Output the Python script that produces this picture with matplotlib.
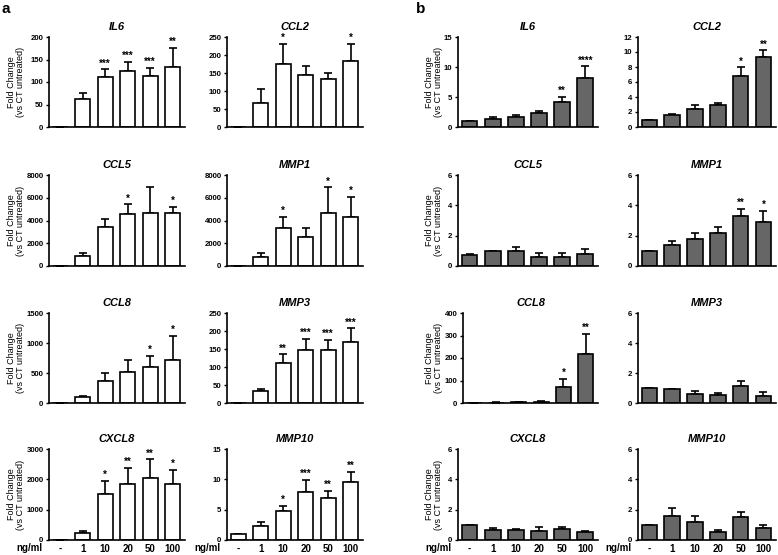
import matplotlib
matplotlib.use('Agg')
import matplotlib.pyplot as plt
import numpy as np

plt.rcParams['font.family'] = ['Liberation Sans', 'DejaVu Sans']

doses = ['-', '1', '10', '20', '50', '100']

# panel a (white bars)
a_il6_mean = [1, 62, 112, 124, 114, 133]
a_il6_sem = [0, 14, 16, 20, 18, 43]
a_il6_stars = ['', '', '***', '***', '***', '**']

a_ccl2_mean = [1, 67, 176, 144, 134, 182]
a_ccl2_sem = [0, 39, 54, 25, 15, 49]
a_ccl2_stars = ['', '', '*', '', '', '*']

a_ccl5_mean = [1, 880, 3460, 4570, 4630, 4630]
a_ccl5_sem = [0, 230, 680, 850, 2340, 590]
a_ccl5_stars = ['', '', '', '*', '', '*']

a_mmp1_mean = [1, 760, 3370, 2580, 4630, 4280]
a_mmp1_sem = [0, 350, 970, 730, 2290, 1820]
a_mmp1_stars = ['', '', '*', '', '*', '*']

a_ccl8_mean = [1, 99, 375, 524, 607, 711]
a_ccl8_sem = [0, 17, 132, 193, 182, 408]
a_ccl8_stars = ['', '', '', '', '*', '*']

a_mmp3_mean = [1, 34, 112, 148, 146, 170]
a_mmp3_sem = [0, 5.5, 23, 31, 30, 37]
a_mmp3_stars = ['', '', '**', '***', '***', '***']

a_cxcl8_mean = [1, 220, 1520, 1850, 2060, 1850]
a_cxcl8_sem = [0, 90, 430, 520, 600, 460]
a_cxcl8_stars = ['', '', '*', '**', '**', '*']

a_mmp10_mean = [1, 2.37, 4.74, 7.89, 6.95, 9.49]
a_mmp10_sem = [0, 0.66, 0.94, 2.04, 1.15, 1.76]
a_mmp10_stars = ['', '', '*', '***', '**', '**']

# panel b (grey bars)
b_il6_mean = [1, 1.39, 1.72, 2.33, 4.1, 8.2]
b_il6_sem = [0, 0.2, 0.22, 0.27, 0.9, 1.9]
b_il6_stars = ['', '', '', '', '**', '****']

b_ccl2_mean = [1, 1.54, 2.43, 2.87, 6.75, 9.35]
b_ccl2_sem = [0, 0.22, 0.53, 0.31, 1.19, 0.88]
b_ccl2_stars = ['', '', '', '', '*', '**']

b_ccl5_mean = [0.73, 1.0, 1.0, 0.62, 0.62, 0.81]
b_ccl5_sem = [0.06, 0, 0.28, 0.26, 0.22, 0.33]
b_ccl5_stars = [''] * 6

b_mmp1_mean = [1, 1.36, 1.78, 2.2, 3.32, 2.88]
b_mmp1_sem = [0, 0.31, 0.37, 0.4, 0.44, 0.77]
b_mmp1_stars = ['', '', '', '', '**', '*']

b_ccl8_mean = [1, 2, 2.5, 5, 70, 218]
b_ccl8_sem = [0, 0.5, 0.5, 2, 37, 89]
b_ccl8_stars = ['', '', '', '', '*', '**']

b_mmp3_mean = [1, 0.93, 0.62, 0.56, 1.11, 0.44]
b_mmp3_sem = [0, 0.02, 0.16, 0.11, 0.38, 0.29]
b_mmp3_stars = [''] * 6

b_cxcl8_mean = [1, 0.66, 0.68, 0.62, 0.71, 0.55]
b_cxcl8_sem = [0, 0.16, 0.05, 0.22, 0.13, 0.07]
b_cxcl8_stars = [''] * 6

b_mmp10_mean = [1, 1.61, 1.21, 0.53, 1.52, 0.77]
b_mmp10_sem = [0, 0.53, 0.38, 0.13, 0.31, 0.2]
b_mmp10_stars = [''] * 6

W, H = 778, 555
fig = plt.figure(figsize=(W / 100, H / 100), dpi=100)


def make_ax(x0, x1, ytop, ybot):
    return fig.add_axes([x0 / W, 1 - ybot / H, (x1 - x0) / W, (ybot - ytop) / H])


def draw(ax, title, mean, sem, stars, ymax, step, color, bottom_row, ylabel_x):
    x = np.arange(len(mean))
    ax.bar(x, mean, width=0.68, color=color, edgecolor='black', linewidth=1.2, zorder=2)
    ax.errorbar(x, mean, yerr=[np.zeros(len(sem)), sem], fmt='none', ecolor='black',
                elinewidth=1.2, capsize=2.6, capthick=1.2, zorder=1)
    for xi, m, s, st in zip(x, mean, sem, stars):
        if st:
            ax.text(xi, m + s + ymax * 0.01, st, ha='center', va='bottom',
                    fontsize=7, fontweight='bold')
    ax.set_xlim(-0.5, 5.55)
    ax.set_ylim(0, ymax)
    ax.set_yticks(np.arange(0, ymax + step / 2, step))
    ax.set_title(title, fontsize=8, style='italic', fontweight='bold', pad=5)
    for s in ['top', 'right']:
        ax.spines[s].set_visible(False)
    for s in ['left', 'bottom']:
        ax.spines[s].set_linewidth(1.2)
    ax.tick_params(axis='y', length=2.5, width=1.0, pad=1.5, labelsize=5.6)
    for lab in ax.get_yticklabels():
        lab.set_fontweight('bold')
    ax.tick_params(axis='x', length=0, pad=3)
    if bottom_row:
        ax.set_xticks(x)
        ax.set_xticklabels(doses, fontsize=7, fontweight='bold')
        ax.text(-0.05, -0.035, 'ng/ml', transform=ax.transAxes, ha='right', va='top',
                fontsize=7, fontweight='bold')
    else:
        ax.set_xticks([])
    if ylabel_x is not None:
        ax.set_ylabel('Fold Change\n(vs CT untreated)', fontsize=6.5, linespacing=1.0)
        ax.yaxis.set_label_coords(ylabel_x, 0.5)


cols = [(49, 185), (227, 363), (458, 598), (638, 776)]
rows = [(37, 127), (175, 266), (313, 403), (449, 540)]
label_right = {0: 25, 2: 443}   # pixel x of the y-label's right edge
white = 'white'
grey = '#666666'

panels = [
    # (col, row, title, mean, sem, stars, ymax, step, color)
    (0, 0, 'IL6', a_il6_mean, a_il6_sem, a_il6_stars, 200, 50, white),
    (1, 0, 'CCL2', a_ccl2_mean, a_ccl2_sem, a_ccl2_stars, 250, 50, white),
    (0, 1, 'CCL5', a_ccl5_mean, a_ccl5_sem, a_ccl5_stars, 8000, 2000, white),
    (1, 1, 'MMP1', a_mmp1_mean, a_mmp1_sem, a_mmp1_stars, 8000, 2000, white),
    (0, 2, 'CCL8', a_ccl8_mean, a_ccl8_sem, a_ccl8_stars, 1500, 500, white),
    (1, 2, 'MMP3', a_mmp3_mean, a_mmp3_sem, a_mmp3_stars, 250, 50, white),
    (0, 3, 'CXCL8', a_cxcl8_mean, a_cxcl8_sem, a_cxcl8_stars, 3000, 1000, white),
    (1, 3, 'MMP10', a_mmp10_mean, a_mmp10_sem, a_mmp10_stars, 15, 5, white),
    (2, 0, 'IL6', b_il6_mean, b_il6_sem, b_il6_stars, 15, 5, grey),
    (3, 0, 'CCL2', b_ccl2_mean, b_ccl2_sem, b_ccl2_stars, 12, 2, grey),
    (2, 1, 'CCL5', b_ccl5_mean, b_ccl5_sem, b_ccl5_stars, 6, 2, grey),
    (3, 1, 'MMP1', b_mmp1_mean, b_mmp1_sem, b_mmp1_stars, 6, 2, grey),
    (2, 2, 'CCL8', b_ccl8_mean, b_ccl8_sem, b_ccl8_stars, 400, 100, grey),
    (3, 2, 'MMP3', b_mmp3_mean, b_mmp3_sem, b_mmp3_stars, 6, 2, grey),
    (2, 3, 'CXCL8', b_cxcl8_mean, b_cxcl8_sem, b_cxcl8_stars, 6, 2, grey),
    (3, 3, 'MMP10', b_mmp10_mean, b_mmp10_sem, b_mmp10_stars, 6, 2, grey),
]

for c, r, title, mean, sem, stars, ymax, step, color in panels:
    x0, x1 = cols[c]
    if c == 2 and r == 2:
        x0 += 5   # wider tick labels push this axis right in the original
    ax = make_ax(x0, x1, rows[r][0], rows[r][1])
    lx = None
    if c in label_right:
        lx = (label_right[c] - x0) / (x1 - x0)
    draw(ax, title, mean, sem, stars, ymax, step, color, r == 3, lx)

fig.text(2 / W, 1 - 2 / H, 'a', fontsize=11, fontweight='bold', ha='left', va='top')
fig.text(416 / W, 1 - 2 / H, 'b', fontsize=11, fontweight='bold', ha='left', va='top')

fig.savefig('out.png', dpi=100)
